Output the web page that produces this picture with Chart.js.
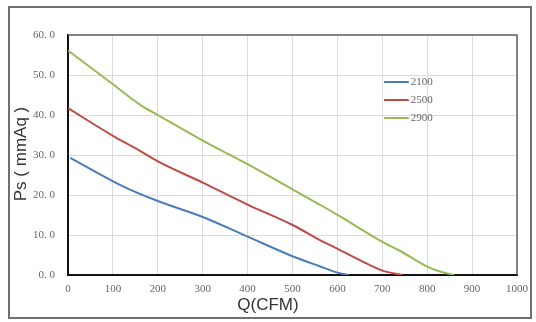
<!DOCTYPE HTML>
<html>
<head>
  <title>Ps - Q curve</title>
  <meta charset="utf-8" />
  <script src="https://cdn.jsdelivr.net/npm/chart.js@4.4.0/dist/chart.umd.min.js"></script>
  <style type="text/css">
    body { margin: 0; background: #fff; }
    #frame { position: absolute; left: 8px; top: 6px; width: 520px; height: 309px; border: 2px solid #707070; }
    #pq { position: absolute; left: 0; top: 0; }
  </style>
</head>
<body>
<div id="frame"></div>
<canvas id="pq" width="536" height="322"></canvas>

<script>
  var speeds = ["2100", "2500", "2900"];
  var colors = ["#4a7ebb", "#be4b48", "#98b954"];

  var q2100 = [5, 120, 200, 300, 400, 500, 560, 600, 625];
  var p2100 = [29.3, 22.3, 18.5, 14.5, 9.6, 4.7, 2.2, 0.6, 0];

  var q2500 = [0, 100, 150, 200, 300, 400, 500, 570, 605, 650, 700, 745];
  var p2500 = [41.7, 34.8, 31.7, 28.4, 23.1, 17.6, 12.5, 8.2, 6.3, 3.7, 1.1, 0];

  var q2900 = [0, 100, 160, 200, 300, 400, 500, 570, 605, 700, 740, 800, 830, 860];
  var p2900 = [56.1, 47.7, 42.6, 40, 33.6, 27.7, 21.4, 17, 14.7, 8.3, 6, 2.1, 0.8, 0];

  var xTicks = [0, 100, 200, 300, 400, 500, 600, 700, 800, 900, 1000];
  var yTicks = [0, 10, 20, 30, 40, 50, 60];

  var tickFont = { family: "'Liberation Serif', 'DejaVu Serif', serif", size: 11 };

  function pts(q, p) {
    var out = [];
    for (var i = 0; i < q.length; i++) out.push({ x: q[i], y: p[i] });
    return out;
  }

  var series = [pts(q2100, p2100), pts(q2500, p2500), pts(q2900, p2900)];
  var datasets = [];
  for (var i = 0; i < speeds.length; i++) {
    datasets.push({
      label: speeds[i],
      data: series[i],
      borderColor: colors[i],
      backgroundColor: colors[i],
      borderWidth: 2,
      pointRadius: 0,
      tension: 0.3,
      cubicInterpolationMode: "monotone",
      fill: false
    });
  }

  // top/right frame, axis titles and the legend inside the plot
  var extras = {
    id: "extras",
    afterDraw: function(chart) {
      var ctx = chart.ctx, a = chart.chartArea;
      var xs = chart.scales.x, ys = chart.scales.y;
      ctx.save();
      ctx.strokeStyle = "#606060";
      ctx.lineWidth = 1.5;
      ctx.beginPath();
      ctx.moveTo(a.left, a.top);
      ctx.lineTo(a.right, a.top);
      ctx.lineTo(a.right, a.bottom);
      ctx.stroke();

      ctx.fillStyle = "#333";
      ctx.font = "17px 'Liberation Sans', Arial, sans-serif";
      ctx.textAlign = "center";
      ctx.textBaseline = "middle";
      ctx.fillText("Q(CFM)", 268, 305);
      ctx.translate(21, 154);
      ctx.rotate(-Math.PI / 2);
      ctx.fillText("Ps ( mmAq )", 0, 0);
      ctx.restore();

      ctx.save();
      ctx.font = "11px 'Liberation Serif', 'DejaVu Serif', serif";
      ctx.textAlign = "left";
      ctx.textBaseline = "middle";
      var x0 = xs.getPixelForValue(704), x1 = xs.getPixelForValue(759);
      chart.data.datasets.forEach(function(ds, k) {
        var y = ys.getPixelForValue(48.25 - k * 4.5);
        ctx.strokeStyle = ds.borderColor;
        ctx.lineWidth = 2;
        ctx.beginPath();
        ctx.moveTo(x0, y);
        ctx.lineTo(x1, y);
        ctx.stroke();
        ctx.fillStyle = "#666";
        ctx.fillText(ds.label, x1 + 2, y);
      });
      ctx.restore();
    }
  };

  new Chart(document.getElementById("pq"), {
    type: "line",
    data: { datasets: datasets },
    plugins: [extras],
    options: {
      responsive: false,
      animation: false,
      layout: { padding: { left: 0, right: 17, top: 35, bottom: 0 } },
      plugins: { legend: { display: false }, tooltip: { enabled: false } },
      scales: {
        x: {
          type: "linear",
          min: 0, max: 1000,
          afterFit: function(s) { s.height = 47; },
          afterBuildTicks: function(s) { s.ticks = xTicks.map(function(v) { return { value: v }; }); },
          grid: { color: "#dcdcdc", lineWidth: 1, drawTicks: false },
          border: { color: "#111", width: 2 },
          ticks: {
            color: "#666", font: tickFont, padding: 8, maxRotation: 0,
            callback: function(v) { return String(v); }
          }
        },
        y: {
          min: 0, max: 60,
          afterFit: function(s) { s.width = 68; },
          afterBuildTicks: function(s) { s.ticks = yTicks.map(function(v) { return { value: v }; }); },
          grid: { color: "#dcdcdc", lineWidth: 1, drawTicks: false },
          border: { color: "#111", width: 2 },
          ticks: {
            color: "#666", font: tickFont, padding: 13,
            callback: function(v) { return v.toFixed(1).replace(".", ". "); }
          }
        }
      }
    }
  });
</script>
</body>
</html>
